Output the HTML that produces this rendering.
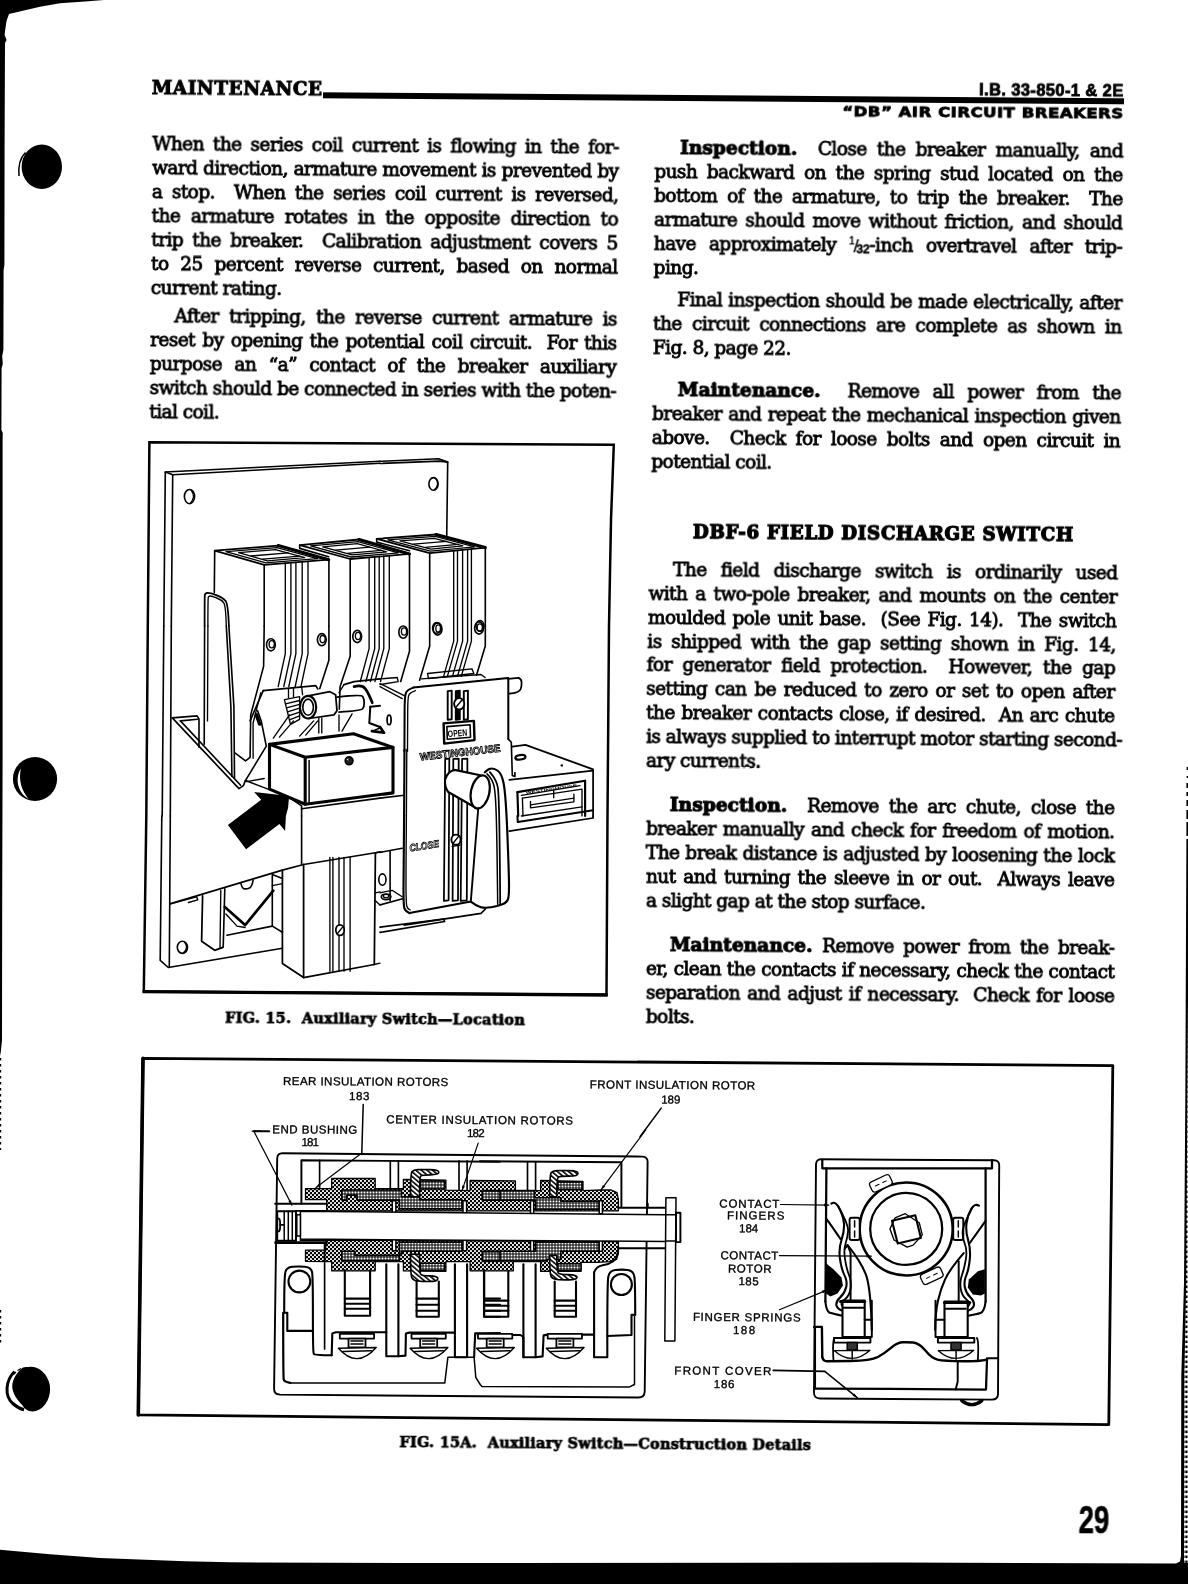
<!DOCTYPE html>
<html lang="en"><head><meta charset="utf-8"><title>Maintenance - DB Air Circuit Breakers - page 29</title>
<style>
html,body{margin:0;padding:0;background:#fff}
body{width:1188px;height:1584px;position:relative;overflow:hidden;color:#000}
#pg{position:absolute;left:0;top:0;width:1188px;height:1584px;transform-origin:150px 94px;transform:matrix(1,0.0075,-0.0115,1,0,0);will-change:transform}
.l{position:absolute;height:24px;line-height:24px;white-space:nowrap;text-align:justify;text-align-last:justify;
 font-family:"DejaVu Serif","Liberation Serif",serif;font-size:18.5px;letter-spacing:-0.55px;-webkit-text-stroke:0.85px #000}
.l.e{text-align:left;text-align-last:left}
.l b{font-weight:bold;-webkit-text-stroke:1.1px #000;letter-spacing:0.1px;font-size:18.5px}
.fr{font-family:'Liberation Sans',sans-serif;letter-spacing:0;-webkit-text-stroke:0.4px #000} .fr span{line-height:0;position:relative;display:inline-block} .fr .n{font-size:10px;top:-6.5px} .fr .s{font-size:19px;top:1px;margin:0 -2.2px 0 -1.2px;-webkit-text-stroke:0.2px #000} .fr .d{font-size:12px;font-weight:bold;top:2px;letter-spacing:-0.3px}
.t{position:absolute;white-space:nowrap}
.hs{font-family:"DejaVu Serif","Liberation Serif",serif;font-weight:bold}
.sb{font-family:"Liberation Sans","DejaVu Sans",sans-serif;font-weight:bold}
svg{position:absolute;overflow:visible}
</style></head><body>
<svg id="scan" width="1188" height="1584" viewBox="0 0 1188 1584" style="left:0;top:0">
<!-- scanner shadow: top-left wedge + left edge band -->
<path d="M0 0H104L85 1.5L60 3.2L40 6.7L25 10.2L9 14L6.5 21L5.2 30L4.6 35L6.6 40L5 43L4.6 140L4.4 265L3.6 270L3.4 350L2.2 356L2.8 364L1.6 368L1.4 430L2.8 433L2.6 440L2.6 760L2.2 900L2 1040L0.8 1052L0 1056Z" fill="#000"/>
<path d="M0.6 1058V1150M0.6 1310V1343" stroke="#000" stroke-width="1.2" stroke-dasharray="2.5 3.5" fill="none"/>
<!-- bottom bar -->
<defs><pattern id="edg" width="3" height="5" patternUnits="userSpaceOnUse"><rect width="3" height="5" fill="#fff"/><rect x="0.3" y="0.5" width="2.2" height="2.6" fill="#000"/></pattern></defs>
<path d="M0 1549.8L50 1554.2L100 1557.9L185 1561.3L230 1562.3L400 1563L900 1562.6L1176 1563.4L1180 1561.5L1181 1556L1181.3 1375L1184 1283L1185.3 1100L1186.4 839L1188 839V1584H0Z" fill="#000"/>
<path d="M1184.3 1375L1186.2 1283L1187.3 1100L1188 1000V1563H1184Z" fill="url(#edg)"/>
<g fill="#000">
<rect x="1186.6" y="767" width="1.4" height="3"/><rect x="1186.6" y="776" width="1.4" height="2"/><rect x="1186.4" y="783" width="1.6" height="5"/><rect x="1186.4" y="792" width="1.6" height="4"/><rect x="1186.4" y="800" width="1.6" height="6"/><rect x="1186.4" y="810" width="1.6" height="9"/><rect x="1186.4" y="822" width="1.6" height="14"/>
</g>
<!-- punched holes -->
<ellipse cx="41.8" cy="166.7" rx="20.2" ry="22.2" fill="#000"/>
<path d="M25.5 152.5C20 158 18.2 167 19 176" fill="none" stroke="#000" stroke-width="1.5"/>
<ellipse cx="35" cy="779" rx="22.1" ry="22" fill="#000"/>
<path d="M20.8 768.5C15 778 17 792 28.5 799C21.5 790 18.5 781 20.8 768.5Z" fill="#fff"/>
<path d="M14.5 1371.5C5.5 1380.5 4.2 1396 12.8 1403.5C16.5 1406.8 20 1408.8 24 1409.8" fill="none" stroke="#000" stroke-width="3"/>
<path d="M21 1368.5L17.5 1370.5M16 1372L13.5 1374.5" stroke="#000" stroke-width="1.2"/>
<path d="M29 1366.9C38 1365.8 47.5 1373 49.8 1385C51.5 1396 46 1408 36 1411C30 1412.5 25 1410 22.5 1405.5C17 1399.5 12.5 1394 12.2 1386C12.5 1378.5 18 1371 23 1367.5C25 1366.9 27 1366.9 29 1366.9Z" fill="#000"/>
</svg>

<svg id="fig15" width="1188" height="1584" viewBox="0 0 1188 1584" style="left:0;top:0;will-change:transform;font-family:'Liberation Sans',sans-serif" stroke-linejoin="round" stroke-linecap="round">
<path d="M149.4,442.2 L613.8,444.8 L611,520 L609,626 L607.5,816 L606.5,994.8 L143.8,991.4 L146.3,816 L147.8,626Z" fill="#fff" stroke="#000" stroke-width="2.5" stroke-linejoin="miter"/>
<path d="M142.6,991.6 L607.7,995" fill="none" stroke="#000" stroke-width="3.4" stroke-linecap="butt"/>
<path d="M163.8,625.9 L165.3,472.0 L380.0,461.3" fill="none" stroke="#000" stroke-width="1.62" />
<path d="M171.3,625.9 L172.7,474.8 L380.0,463.3" fill="none" stroke="#000" stroke-width="1.62" />
<path d="M165.3,472.0 L172.7,474.8" fill="none" stroke="#000" stroke-width="1.62" />
<path d="M380.0,461.3 L438.6,458.8 L447.7,461.9 L446.7,537.0" fill="none" stroke="#000" stroke-width="1.62" />
<path d="M380.0,463.5 L439.6,461.1 L447.7,462.1" fill="none" stroke="#000" stroke-width="1.62" />
<path d="M163.8,626.0 L162.2,815.9" fill="none" stroke="#000" stroke-width="1.62" />
<path d="M171.3,626.0 L170.3,815.9" fill="none" stroke="#000" stroke-width="1.62" />
<path d="M161.8,816.0 L160.2,960.4 L168.3,967.5 L282.4,948.3" fill="none" stroke="#000" stroke-width="1.62" />
<path d="M170.3,816.0 L169.3,966.5" fill="none" stroke="#000" stroke-width="1.62" />
<ellipse cx="189.5" cy="496.6" rx="5.1" ry="7.1" fill="none" stroke="#000" stroke-width="1.62"/>
<path d="M191.5,490.5 Q193.7,493.6 193.5,496.9 Q193.3,500.2 190.5,502.9" fill="none" stroke="#000" stroke-width="1.35"/>
<ellipse cx="433.5" cy="483.9" rx="4.6" ry="6.3" fill="none" stroke="#000" stroke-width="1.62"/>
<path d="M435.6,478.4 Q437.8,480.8 437.6,484.1 Q437.4,487.3 434.5,489.5" fill="none" stroke="#000" stroke-width="1.35"/>
<ellipse cx="182.4" cy="947.3" rx="5.1" ry="6.1" fill="none" stroke="#000" stroke-width="1.62"/>
<path d="M184.4,942.1 Q186.7,944.5 186.5,947.5 Q186.3,950.5 183.4,952.8" fill="none" stroke="#000" stroke-width="1.35"/>
<path d="M214.6,550.7 L278.2,545.6 L328.7,559.7 L264.3,564.8Z" fill="none" stroke="#000" stroke-width="1.76" />
<path d="M278.2,545.6 L328.7,559.7" fill="none" stroke="#000" stroke-width="3.10" />
<path d="M226.0,551.7 L277.0,547.6 L317.4,558.7 L265.9,562.8Z" fill="none" stroke="#000" stroke-width="1.35" />
<path d="M238.6,552.7 L275.5,549.6 L304.7,557.7 L267.4,560.8Z" fill="none" stroke="#000" stroke-width="1.35" />
<path d="M251.0,556.0 L288.1,552.9" fill="none" stroke="#000" stroke-width="1.35" />
<path d="M262.6,559.2 L299.7,556.2" fill="none" stroke="#000" stroke-width="1.35" />
<path d="M214.7,551.2 L214.3,592.6" fill="none" stroke="#000" stroke-width="1.62" />
<path d="M264.2,565.3 L264.2,625.9" fill="none" stroke="#000" stroke-width="1.62" />
<path d="M328.9,560.2 L328.9,625.9" fill="none" stroke="#000" stroke-width="1.62" />
<path d="M285.3,563.0 L285.3,653.7 L278.2,686.5" fill="none" stroke="#000" stroke-width="1.35" />
<path d="M290.9,562.8 L290.9,653.7 L283.8,686.5" fill="none" stroke="#000" stroke-width="1.35" />
<path d="M295.9,562.3 L295.9,653.7 L288.8,686.5" fill="none" stroke="#000" stroke-width="1.35" />
<path d="M302.2,561.8 L302.2,653.7 L295.2,686.5" fill="none" stroke="#000" stroke-width="1.35" />
<path d="M308.0,561.3 L308.0,653.7 L301.0,686.5" fill="none" stroke="#000" stroke-width="1.35" />
<path d="M204.6,625.9 Q204.6,597.6 204.8,595.4 Q205.1,593.2 207.4,592.9 Q209.7,592.6 216.2,595.1 Q222.8,597.6 225.4,600.7 Q228.1,603.7 228.9,625.9" fill="none" stroke="#000" stroke-width="1.76"/>
<path d="M207.9,625.9 Q207.9,598.6 208.3,597.3 Q208.7,596.0 210.2,596.0 Q211.7,596.0 216.8,598.0 Q221.8,600.0 223.8,602.9 Q225.7,605.7 226.3,625.9" fill="none" stroke="#000" stroke-width="1.35"/>
<path d="M264.2,626.0 L263.6,666.4 L250.7,714.9 L250.1,757.3 L245.5,760.9 L234.9,752.9" fill="none" stroke="#000" stroke-width="1.62" />
<path d="M260.8,692.7 L253.1,723.0 L253.1,758.3" fill="none" stroke="#000" stroke-width="1.35" />
<path d="M257.6,710.8 L261.2,720.9 L266.3,746.2 L245.1,781.2" fill="none" stroke="#000" stroke-width="1.62" />
<path d="M256.4,714.9 L259.6,724.0" fill="none" stroke="#000" stroke-width="3.51" />
<path d="M204.6,626.0 L204.2,744.2" fill="none" stroke="#000" stroke-width="1.62" />
<path d="M207.9,626.0 L207.5,720.9" fill="none" stroke="#000" stroke-width="1.35" />
<path d="M226.3,626.0 L230.9,706.8 L231.9,776.5" fill="none" stroke="#000" stroke-width="1.62" />
<path d="M228.9,626.0 L233.9,706.8 L234.5,778.5" fill="none" stroke="#000" stroke-width="1.62" />
<path d="M328.9,626.0 L328.9,660.3 L319.8,688.6" fill="none" stroke="#000" stroke-width="1.62" />
<path d="M172.3,717.9 L197.0,715.9 L199.0,718.9 L199.0,747.2" fill="none" stroke="#000" stroke-width="1.62" />
<path d="M172.3,717.9 L239.0,788.6 L243.4,785.6 L245.5,780.5" fill="none" stroke="#000" stroke-width="1.62" />
<path d="M180.4,720.9 L197.6,719.3" fill="none" stroke="#000" stroke-width="1.62" />
<path d="M180.4,720.9 L240.6,785.2" fill="none" stroke="#000" stroke-width="1.62" />
<ellipse cx="270.9" cy="644.8" rx="4.4" ry="6.1" fill="none" stroke="#000" stroke-width="1.62"/>
<ellipse cx="271.7" cy="644.2" rx="2.6" ry="3.6" fill="none" stroke="#000" stroke-width="1.35"/>
<ellipse cx="321.8" cy="639.7" rx="4.4" ry="6.1" fill="none" stroke="#000" stroke-width="1.62"/>
<ellipse cx="322.6" cy="639.1" rx="2.6" ry="3.6" fill="none" stroke="#000" stroke-width="1.35"/>
<ellipse cx="357.2" cy="636.5" rx="4.4" ry="6.1" fill="none" stroke="#000" stroke-width="1.62"/>
<ellipse cx="358.0" cy="635.9" rx="2.6" ry="3.6" fill="none" stroke="#000" stroke-width="1.35"/>
<path d="M299.7,545.1 L359.0,539.5 L409.5,553.9 L350.2,559.0Z" fill="none" stroke="#000" stroke-width="1.76" />
<path d="M359.0,539.5 L409.5,553.9" fill="none" stroke="#000" stroke-width="3.10" />
<path d="M310.6,545.9 L358.0,541.6 L398.4,552.9 L351.0,557.0Z" fill="none" stroke="#000" stroke-width="1.35" />
<path d="M322.7,546.9 L357.3,543.6 L386.6,551.9 L352.0,554.9Z" fill="none" stroke="#000" stroke-width="1.35" />
<path d="M335.6,550.2 L369.9,547.1" fill="none" stroke="#000" stroke-width="1.35" />
<path d="M347.2,553.4 L381.5,550.4" fill="none" stroke="#000" stroke-width="1.35" />
<path d="M299.7,545.1 L299.7,548.4 L328.7,556.7" fill="none" stroke="#000" stroke-width="1.62" />
<path d="M350.2,559.0 L350.2,656.2 L340.1,686.5 L339.3,709.2" fill="none" stroke="#000" stroke-width="1.62" />
<path d="M409.5,553.9 L409.5,651.2 L400.7,681.5" fill="none" stroke="#000" stroke-width="1.62" />
<path d="M369.1,557.5 L369.1,648.6 L360.3,681.5" fill="none" stroke="#000" stroke-width="1.35" />
<path d="M374.7,557.0 L374.7,648.6 L365.9,681.5" fill="none" stroke="#000" stroke-width="1.35" />
<path d="M379.2,556.5 L379.2,648.6 L370.4,681.5" fill="none" stroke="#000" stroke-width="1.35" />
<path d="M383.8,556.2 L383.8,648.6 L374.9,681.5" fill="none" stroke="#000" stroke-width="1.35" />
<path d="M389.3,555.7 L389.3,648.6 L380.5,681.5" fill="none" stroke="#000" stroke-width="1.35" />
<path d="M376.7,538.8 L436.1,534.5 L485.3,547.6 L429.7,553.2Z" fill="none" stroke="#000" stroke-width="1.76" />
<path d="M436.1,534.5 L485.3,547.6" fill="none" stroke="#000" stroke-width="3.10" />
<path d="M387.8,539.8 L435.3,536.3 L474.7,546.9 L430.3,551.2Z" fill="none" stroke="#000" stroke-width="1.35" />
<path d="M399.9,540.8 L434.3,538.3 L462.8,545.9 L430.8,549.1Z" fill="none" stroke="#000" stroke-width="1.35" />
<path d="M413.3,544.1 L446.7,541.3" fill="none" stroke="#000" stroke-width="1.35" />
<path d="M425.2,547.4 L458.3,544.3" fill="none" stroke="#000" stroke-width="1.35" />
<path d="M376.7,538.8 L376.7,542.1 L409.5,550.7" fill="none" stroke="#000" stroke-width="1.62" />
<path d="M429.7,553.2 L429.7,646.1 L419.6,680.2" fill="none" stroke="#000" stroke-width="1.62" />
<path d="M485.3,547.6 L485.3,646.1 L476.5,675.2" fill="none" stroke="#000" stroke-width="1.62" />
<path d="M453.7,550.7 L453.7,641.1 L443.6,676.4" fill="none" stroke="#000" stroke-width="1.35" />
<path d="M457.5,550.4 L457.5,641.1 L447.4,676.4" fill="none" stroke="#000" stroke-width="1.35" />
<path d="M462.6,549.9 L462.6,641.1 L452.5,676.4" fill="none" stroke="#000" stroke-width="1.35" />
<path d="M467.6,549.4 L467.6,641.1 L457.5,676.4" fill="none" stroke="#000" stroke-width="1.35" />
<path d="M471.4,549.1 L471.4,641.1 L461.3,676.4" fill="none" stroke="#000" stroke-width="1.35" />
<ellipse cx="436.6" cy="627.9" rx="4.0" ry="5.3" fill="none" stroke="#000" stroke-width="1.62"/>
<ellipse cx="480.0" cy="625.9" rx="4.0" ry="5.3" fill="none" stroke="#000" stroke-width="1.62"/>
<ellipse cx="403.2" cy="632.1" rx="4.4" ry="6.1" fill="none" stroke="#000" stroke-width="1.62"/>
<ellipse cx="404.0" cy="631.5" rx="2.6" ry="3.6" fill="none" stroke="#000" stroke-width="1.35"/>
<ellipse cx="437.6" cy="629.0" rx="4.4" ry="6.1" fill="none" stroke="#000" stroke-width="1.62"/>
<ellipse cx="438.4" cy="628.4" rx="2.6" ry="3.6" fill="none" stroke="#000" stroke-width="1.35"/>
<ellipse cx="479.0" cy="628.0" rx="4.4" ry="6.1" fill="none" stroke="#000" stroke-width="1.62"/>
<ellipse cx="479.8" cy="627.4" rx="2.6" ry="3.6" fill="none" stroke="#000" stroke-width="1.35"/>
<path d="M427.5,673.5 L471.9,668.8 L473.9,673.5 L428.5,678.5Z" fill="none" stroke="#000" stroke-width="1.35" />
<path d="M380.0,678.9 L397.2,677.5 L398.2,681.6 L380.0,684.6" fill="none" stroke="#000" stroke-width="1.35" />
<path d="M421.4,678.9 L481.0,674.5 L485.1,677.5" fill="none" stroke="#000" stroke-width="1.35" />
<path d="M263.2,690.6 L315.8,685.6 L317.8,689.0" fill="none" stroke="#000" stroke-width="1.62" />
<path d="M263.2,690.6 L250.1,720.9" fill="none" stroke="#000" stroke-width="1.62" />
<path d="M284.4,699.7 L299.6,696.7 L299.6,719.3 L290.5,724.4Z" fill="none" stroke="#000" stroke-width="1.35" />
<path d="M285.5,703.8 L299.6,700.5" fill="none" stroke="#000" stroke-width="1.35" />
<path d="M286.5,707.8 L299.6,704.4" fill="none" stroke="#000" stroke-width="1.35" />
<path d="M287.5,711.9 L299.6,708.2" fill="none" stroke="#000" stroke-width="1.35" />
<path d="M288.5,715.9 L299.6,712.1" fill="none" stroke="#000" stroke-width="1.35" />
<path d="M289.5,719.9 L299.6,715.9" fill="none" stroke="#000" stroke-width="1.35" />
<path d="M288.5,688.6 L288.5,697.7" fill="none" stroke="#000" stroke-width="1.35" />
<path d="M293.5,687.6 L293.5,696.7" fill="none" stroke="#000" stroke-width="1.35" />
<path d="M301.6,686.6 L302.6,694.7" fill="none" stroke="#000" stroke-width="1.35" />
<ellipse cx="308.1" cy="707.2" rx="8.1" ry="11.3" fill="none" stroke="#000" stroke-width="2.16"/>
<ellipse cx="308.1" cy="707.2" rx="5.3" ry="8.1" fill="none" stroke="#000" stroke-width="1.62"/>
<path d="M308.1,695.9 L329.9,691.7 L335.6,694.7 L337.0,710.8 L333.9,714.9 L308.7,718.5" fill="none" stroke="#000" stroke-width="1.76" />
<path d="M337.0,697.1 Q361.2,694.3 362.7,696.5 Q364.2,698.7 364.2,702.8 Q364.2,706.8 362.7,708.8 Q361.2,710.8 339.0,712.1" fill="none" stroke="#000" stroke-width="1.76"/>
<path d="M273.3,738.1 L289.5,714.9" fill="none" stroke="#000" stroke-width="1.35" />
<path d="M279.4,737.1 L293.5,720.9" fill="none" stroke="#000" stroke-width="1.35" />
<path d="M299.6,736.1 L313.7,720.9" fill="none" stroke="#000" stroke-width="1.35" />
<path d="M305.7,735.1 L317.8,720.9" fill="none" stroke="#000" stroke-width="1.35" />
<path d="M318.8,717.9 L318.8,733.1" fill="none" stroke="#000" stroke-width="1.35" />
<path d="M321.8,717.9 L321.8,733.1" fill="none" stroke="#000" stroke-width="1.35" />
<path d="M339.0,714.9 L339.0,731.1" fill="none" stroke="#000" stroke-width="1.35" />
<path d="M342.0,731.1 L352.1,713.9" fill="none" stroke="#000" stroke-width="1.35" />
<path d="M344.0,684.6 L354.1,681.6 L380.0,678.9" fill="none" stroke="#000" stroke-width="1.76" />
<path d="M344.0,684.6 L339.0,692.7" fill="none" stroke="#000" stroke-width="1.35" />
<path d="M354.1,686.6 Q362.2,684.6 365.2,688.7 Q368.3,692.7 372.3,702.8" fill="none" stroke="#000" stroke-width="2.70"/>
<path d="M370.3,706.8 L380.0,705.8" fill="none" stroke="#000" stroke-width="2.03" />
<path d="M370.3,706.8 L369.3,723.0 L380.0,727.0" fill="none" stroke="#000" stroke-width="2.03" />
<path d="M372.3,731.1 L380.0,728.0" fill="none" stroke="#000" stroke-width="1.35" />
<path d="M380.0,683.6 L404.2,695.7" fill="none" stroke="#000" stroke-width="1.35" />
<path d="M380.0,686.6 L402.2,698.7" fill="none" stroke="#000" stroke-width="1.35" />
<ellipse cx="389.1" cy="719.9" rx="2.0" ry="4.8" fill="none" stroke="#000" stroke-width="1.76"/>
<path d="M371.9,731.1 L384.0,732.7 L380.0,727.0" fill="none" stroke="#000" stroke-width="2.70" />
<path d="M269.5,744.4 L353.6,733.8 L393.0,747.4 L393.0,792.9 L305.2,804.2 L269.5,789.1Z" fill="#fff" stroke="#000" stroke-width="3.10" />
<path d="M269.5,744.4 L305.2,757.3 L393.0,747.4" fill="none" stroke="#000" stroke-width="3.10" />
<path d="M305.2,757.3 L305.2,804.2" fill="none" stroke="#000" stroke-width="3.10" />
<path d="M309.1,760.6 L309.1,802.4" fill="none" stroke="#000" stroke-width="1.49" />
<ellipse cx="349.1" cy="760.8" rx="3.9" ry="3.9" fill="#222" stroke="#000" stroke-width="1.62"/>
<ellipse cx="347.9" cy="759.5" rx="1.2" ry="1.2" fill="#fff" stroke="#000" stroke-width="0.68"/>
<path d="M245.5,780.5 L269.3,789.6" fill="none" stroke="#000" stroke-width="1.35" />
<path d="M246.7,781.6 L264.2,778.5" fill="none" stroke="#000" stroke-width="1.35" />
<path d="M289.5,797.7 L301.6,805.8 L301.6,815.9" fill="none" stroke="#000" stroke-width="1.62" />
<path d="M301.6,808.8 L380.0,798.1" fill="none" stroke="#000" stroke-width="1.62" />
<path d="M380.0,798.1 L404.2,795.3" fill="none" stroke="#000" stroke-width="1.62" />
<path d="M254.1,792.1 L289.1,796.1 L288.1,807.8 L285.9,815.9 L285.1,831.1 L279.4,824.0 L246.1,849.2 L227.9,825.0 L261.2,799.7" fill="#000"/>
<path d="M512.3,746.6 L525.5,744.8 L593.1,769.4 L593.1,815.9 L593.1,818.0 L509.3,831.2 L509.3,779.9 Z" fill="#fff" stroke="none"/>
<path d="M512.3,746.6 L525.5,744.8 L593.1,769.4 L593.1,815.9" fill="none" stroke="#000" stroke-width="1.76" />
<path d="M509.3,779.9 L593.1,770.6" fill="none" stroke="#000" stroke-width="1.76" />
<path d="M517.4,792.1 L585.1,780.7 L585.1,815.9" fill="none" stroke="#000" stroke-width="2.16" />
<path d="M517.4,792.1 L518.2,815.9" fill="none" stroke="#000" stroke-width="2.16" />
<path d="M521.4,795.3 L580.0,785.6" fill="none" stroke="#000" stroke-width="1.35" />
<path d="M522.4,798.1 L582.0,789.2 L582.0,815.9" fill="none" stroke="#000" stroke-width="1.35" />
<path d="M522.4,798.1 L523.0,815.9" fill="none" stroke="#000" stroke-width="1.35" />
<path d="M530.5,801.4 L530.5,807.8 L573.9,801.8 L573.9,794.1" fill="none" stroke="#000" stroke-width="1.35" />
<path d="M530.5,804.8 L573.9,798.1" fill="none" stroke="#000" stroke-width="1.35" />
<path d="M553.7,790.6 L553.7,797.7" fill="none" stroke="#000" stroke-width="1.35" />
<ellipse cx="520.4" cy="757.3" rx="5.1" ry="2.2" fill="none" stroke="#000" stroke-width="2.16" transform="rotate(-8 520.4 757.3)"/>
<circle cx="561.8" cy="765.4" r="1.2"/>
<text x="525.9" y="794.1" font-size="3.6" transform="rotate(-8.5 525.9 794.1)" font-weight="bold" textLength="52" lengthAdjust="spacingAndGlyphs">WESTINGHOUSE</text>
<path d="M509.3,831.2 L593.1,818.0 L593.1,816.0" fill="none" stroke="#000" stroke-width="1.76" />
<path d="M517.4,816.0 L517.8,822.1 L593.1,810.3" fill="none" stroke="#000" stroke-width="2.03" />
<path d="M521.4,816.0 L582.0,806.9" fill="none" stroke="#000" stroke-width="1.35" />
<path d="M413.3,687.6 L508.3,678.1 L508.3,739.1 L505.8,793.9 L508.5,861.2 L509.2,894.9 L504.5,904.3 L484.3,908.4 L470.8,901.6 L409.5,913.1 L405.1,911.0 L403.5,905.0 L403.5,874.7 L404.1,815.4 L404.6,727.0 L404.6,695.7 L407.3,689.6 Z" fill="#fff" stroke="none"/>
<path d="M404.4,751.3 Q404.6,727.0 404.6,711.4 Q404.6,695.7 406.0,692.7 Q407.3,689.6 413.3,687.6" fill="none" stroke="#000" stroke-width="2.03"/>
<path d="M413.3,687.6 L508.3,678.1 L508.3,739.1" fill="none" stroke="#000" stroke-width="2.03" />
<path d="M407.5,751.3 Q407.7,727.0 407.7,712.4 Q407.7,697.7 408.8,695.2 Q409.9,692.7 415.4,690.6" fill="none" stroke="#000" stroke-width="1.35"/>
<path d="M508.3,678.9 L518.4,677.9" fill="none" stroke="#000" stroke-width="1.76" />
<path d="M518.4,677.9 Q521.4,678.9 521.6,682.2 Q521.8,685.6 520.6,689.2 Q519.4,692.7 509.3,693.7" fill="none" stroke="#000" stroke-width="1.76"/>
<path d="M508.3,739.1 L511.3,742.2 L512.3,775.5 L514.9,776.5 L514.9,772.5" fill="none" stroke="#000" stroke-width="1.62" />
<path d="M447.7,691.1 L451.7,690.6 L451.7,719.3 L447.7,719.9Z" fill="none" stroke="#000" stroke-width="1.89" />
<path d="M455.8,691.1 L459.8,690.6 L459.8,719.3 L455.8,719.9Z" fill="#000" stroke="#000" stroke-width="1.89" />
<path d="M463.8,691.1 L467.9,690.6 L467.9,719.3 L463.8,719.9Z" fill="none" stroke="#000" stroke-width="1.89" />
<ellipse cx="459.2" cy="703.8" rx="5.1" ry="5.7" fill="#fff" stroke="#000" stroke-width="1.89"/>
<path d="M456.4,706.8 L461.8,700.3" fill="none" stroke="#000" stroke-width="1.35" />
<path d="M443.6,723.4 L473.9,720.9 L474.5,740.1 L444.2,743.6Z" fill="none" stroke="#000" stroke-width="2.43" />
<path d="M446.9,726.6 L470.1,724.8 L470.5,737.3 L447.3,739.3Z" fill="none" stroke="#000" stroke-width="1.62" />
<path d="M445.2,758.9 L443.9,900.9 L448.6,900.3 L449.3,758.6Z" fill="none" stroke="#000" stroke-width="1.76" />
<path d="M453.3,758.9 L452.6,900.9 L458.0,900.3 L458.7,758.6Z" fill="none" stroke="#000" stroke-width="1.76" />
<path d="M462.1,758.9 L460.7,900.9 L466.8,900.3 L467.4,758.6Z" fill="none" stroke="#000" stroke-width="1.76" />
<ellipse cx="456.0" cy="839.7" rx="4.6" ry="5.1" fill="#fff" stroke="#000" stroke-width="1.89"/>
<path d="M453.3,843.0 L459.0,835.9" fill="none" stroke="#000" stroke-width="1.35" />
<path d="M452.2,846.4 L460.0,845.1" fill="none" stroke="#000" stroke-width="1.35" />
<path d="M404.5,749.4 L404.1,815.4" fill="none" stroke="#000" stroke-width="2.16" />
<path d="M404.1,815.4 Q403.5,874.7 403.5,889.9 Q403.5,905.0 404.3,908.0 Q405.1,911.0 409.5,913.1" fill="none" stroke="#000" stroke-width="2.16"/>
<path d="M409.5,913.1 L470.8,901.6" fill="none" stroke="#000" stroke-width="2.03" />
<path d="M406.8,749.4 L406.4,815.4" fill="none" stroke="#000" stroke-width="1.35" />
<path d="M406.4,815.4 Q405.9,874.7 406.0,889.2 Q406.2,903.6 406.7,906.0 Q407.2,908.4 410.2,910.0" fill="none" stroke="#000" stroke-width="1.35"/>
<path d="M478.2,808.7 L476.2,796.6 L484.3,772.3 L492.4,768.3 L501.8,773.7 L505.8,793.9 L508.5,861.2 L509.2,894.9 L504.5,904.3 L484.3,908.4 L470.8,901.6 Z" fill="#fff" stroke="none"/>
<path d="M484.9,772.3 Q488.3,768.6 491.4,768.5 Q494.4,768.3 498.1,771.0 Q501.8,773.7 503.7,783.8 Q505.6,793.9 507.1,827.5 Q508.5,861.2 508.9,878.0 Q509.3,894.9 508.2,898.6 Q507.2,902.3 502.4,904.3 Q497.7,906.3 491.0,907.3 Q484.3,908.4 480.2,907.0 Q476.2,905.7 470.8,901.6" fill="none" stroke="#000" stroke-width="2.16"/>
<path d="M478.2,808.7 L470.8,901.6" fill="none" stroke="#000" stroke-width="1.89" />
<path d="M487.0,773.9 Q492.6,779.1 494.1,786.5 Q495.7,793.9 496.4,820.8 Q497.1,847.7 497.7,905.0" fill="none" stroke="#000" stroke-width="1.49"/>
<path d="M489.9,772.1 Q497.1,780.4 498.0,788.5 Q498.8,796.6 499.3,822.2 Q499.8,847.7 500.2,904.6" fill="none" stroke="#000" stroke-width="1.76"/>
<path d="M480.2,775.3 L454.6,769.9 L449.9,771.6 L445.9,776.4 L444.5,783.1 L445.9,788.5 L448.2,792.0 L476.2,808.0 Z" fill="#fff" stroke="none"/>
<path d="M480.2,775.3 Q454.6,769.9 454.6,769.9 Q454.6,769.9 452.0,770.8 Q449.3,771.6 446.9,775.4 Q444.5,779.1 445.0,783.5 Q445.5,787.8 446.9,789.9 Q448.2,792.0 448.2,792.0 Q448.2,792.0 476.2,808.0" fill="none" stroke="#000" stroke-width="2.16"/>
<ellipse cx="480.2" cy="791.9" rx="9.2" ry="16.8" fill="#fff" stroke="#000" stroke-width="2.16" transform="rotate(12 480.2 791.9)"/>
<path d="M404.2,925.1 L481.0,913.4 L485.5,908.9" fill="none" stroke="#000" stroke-width="1.62" />
<path d="M380.0,927.1 L443.6,919.0 L444.6,921.5 L380.0,932.4" fill="none" stroke="#000" stroke-width="1.62" />
<path d="M380.0,852.4 L402.2,848.3" fill="none" stroke="#000" stroke-width="1.62" />
<path d="M390.1,850.7 L390.1,900.8" fill="none" stroke="#000" stroke-width="1.62" />
<ellipse cx="382.4" cy="879.6" rx="3.6" ry="5.7" fill="none" stroke="#000" stroke-width="1.62"/>
<ellipse cx="386.1" cy="896.8" rx="4.8" ry="2.8" fill="none" stroke="#000" stroke-width="1.62"/>
<ellipse cx="386.1" cy="896.0" rx="2.8" ry="1.6" fill="none" stroke="#000" stroke-width="1.35"/>
<path d="M380.0,892.8 L392.1,890.3 L402.2,896.8" fill="none" stroke="#000" stroke-width="1.35" />
<path d="M380.0,904.9 L402.6,898.8" fill="none" stroke="#000" stroke-width="1.62" />
<text x="448.1" y="737.3" font-size="9.5" transform="rotate(-5 448.1 737.3)" font-weight="bold" textLength="19.5" lengthAdjust="spacingAndGlyphs">OPEN</text>
<text x="420.3" y="760.5" font-size="10.5" transform="rotate(-6.3 420.3 760.5)" font-weight="bold" fill="#fff" stroke="#000" stroke-width="0.9" textLength="81" lengthAdjust="spacingAndGlyphs">WESTINGHOUSE</text>
<text x="409.9" y="851.5" font-size="10" transform="rotate(-9 409.9 851.5)" font-weight="bold" font-style="italic" fill="#fff" stroke="#000" stroke-width="0.8" textLength="30" lengthAdjust="spacingAndGlyphs">CLOSE</text>
<path d="M169.9,903.9 L282.4,870.1 L303.6,864.5 L380.0,852.0" fill="none" stroke="#000" stroke-width="1.76" />
<path d="M301.6,816.0 L301.6,864.1" fill="none" stroke="#000" stroke-width="1.62" />
<path d="M282.4,870.1 L282.4,963.5 L303.6,977.6 L374.3,964.5 L375.4,852.8" fill="none" stroke="#000" stroke-width="1.76" />
<path d="M303.6,864.5 L303.6,977.6" fill="none" stroke="#000" stroke-width="1.76" />
<path d="M329.9,857.4 L329.9,971.2" fill="none" stroke="#000" stroke-width="1.35" />
<path d="M332.9,857.4 L332.9,971.2" fill="none" stroke="#000" stroke-width="1.35" />
<path d="M339.0,857.4 L339.0,971.2" fill="none" stroke="#000" stroke-width="1.35" />
<path d="M344.0,857.4 L344.0,971.2" fill="none" stroke="#000" stroke-width="1.35" />
<path d="M350.1,857.4 L350.1,971.2" fill="none" stroke="#000" stroke-width="1.35" />
<ellipse cx="340.0" cy="930.1" rx="4.2" ry="5.3" fill="#fff" stroke="#000" stroke-width="1.76"/>
<path d="M337.6,933.2 L342.6,927.1" fill="none" stroke="#000" stroke-width="1.35" />
<path d="M170.3,903.9 L196.6,896.8 L197.8,899.8 L188.5,902.5" fill="none" stroke="#000" stroke-width="1.35" />
<path d="M202.6,895.8 L201.6,941.3 L214.7,950.3 L222.8,947.3" fill="none" stroke="#000" stroke-width="1.76" />
<path d="M220.8,890.3 L220.0,948.3" fill="none" stroke="#000" stroke-width="1.35" />
<path d="M224.8,888.7 L223.2,947.3" fill="none" stroke="#000" stroke-width="1.62" />
<path d="M224.8,906.9 L245.1,925.1 L273.3,890.7" fill="none" stroke="#000" stroke-width="2.70" />
<path d="M225.9,914.0 L237.0,926.1 L245.1,927.5" fill="none" stroke="#000" stroke-width="1.35" />
<path d="M226.9,935.2 L272.3,926.1 L272.3,874.6 L282.4,878.6" fill="none" stroke="#000" stroke-width="1.62" />
<path d="M272.3,926.1 L282.4,932.2" fill="none" stroke="#000" stroke-width="1.62" />
<path d="M272.3,885.7 L282.4,883.7" fill="none" stroke="#000" stroke-width="1.35" />
<path d="M241.0,883.7 Q242.0,888.7 244.6,888.9 Q247.1,889.1 249.6,887.9 Q252.1,886.7 253.1,880.2" fill="none" stroke="#000" stroke-width="1.62"/>
<path d="M375.4,852.8 L380.0,852.0" fill="none" stroke="#000" stroke-width="1.62" />
<path d="M374.3,964.5 L380.0,963.1" fill="none" stroke="#000" stroke-width="1.35" />
<path d="M375.4,892.8 L380.0,891.8" fill="none" stroke="#000" stroke-width="1.35" />
<path d="M375.4,900.8 L380.0,904.9" fill="none" stroke="#000" stroke-width="1.35" />
</svg>

<svg id="fig15a" width="1188" height="1584" viewBox="0 0 1188 1584" style="left:0;top:0;will-change:transform;font-family:'Liberation Sans',sans-serif" stroke-linejoin="round" stroke-linecap="round">
<defs><pattern id="st" width="4" height="4" patternUnits="userSpaceOnUse"><rect width="4" height="4" fill="#000"/><circle cx="1" cy="1" r="1.08" fill="#fff"/><circle cx="3" cy="3" r="1.08" fill="#fff"/></pattern><pattern id="st2" width="3" height="3" patternUnits="userSpaceOnUse"><rect width="3" height="3" fill="#000"/><rect x="0.5" y="0.5" width="2" height="2" fill="#fff"/></pattern><pattern id="hat" width="3.6" height="3.6" patternUnits="userSpaceOnUse" patternTransform="rotate(-50)"><rect width="3.6" height="3.6" fill="#fff"/><rect width="1.6" height="3.6" fill="#000"/></pattern></defs>
<path d="M143,1058.3 L1112.8,1065.6 L1108.8,1424.6 L138.3,1414.9Z" fill="#fff" stroke="#000" stroke-width="2.8"/>
<path d="M143,1058.3 L138.3,1414.9" stroke="#000" stroke-width="3.6"/>
<path d="M282.5,1153.3 L642.5,1156.6 Q647.7,1156.8 647.6,1162 L644.7,1391.5 Q644.5,1397.5 638.5,1397.5 L280,1394.6 Q274,1394.4 274.1,1388.5 L277.2,1158.5 Q277.3,1153.2 282.5,1153.3Z" fill="#fff" stroke="#000" stroke-width="1.9"/>
<path d="M301.4,1203.7 L301.4,1160.3 L500.0,1161.7" fill="none" stroke="#000" stroke-width="1.95"/>
<path d="M480.0,1161.3 L621.4,1162.3 L621.4,1206.8" fill="none" stroke="#000" stroke-width="1.95"/>
<path d="M319.6,1160.3 L319.6,1188.6" fill="none" stroke="#000" stroke-width="1.65"/>
<path d="M390.3,1160.9 L390.3,1189.6" fill="none" stroke="#000" stroke-width="1.65"/>
<path d="M398.4,1160.9 L398.4,1189.6" fill="none" stroke="#000" stroke-width="1.65"/>
<path d="M459.0,1160.9 L459.0,1189.6" fill="none" stroke="#000" stroke-width="1.65"/>
<path d="M467.1,1160.9 L467.1,1189.6" fill="none" stroke="#000" stroke-width="1.65"/>
<path d="M527.5,1161.9 L527.5,1190.6" fill="none" stroke="#000" stroke-width="1.65"/>
<path d="M535.6,1161.9 L535.6,1190.6" fill="none" stroke="#000" stroke-width="1.65"/>
<path d="M305.5,1188.6 L331.7,1188.6 L331.7,1178.5 L375.2,1178.5 L375.2,1188.6 L403.4,1188.6 L403.4,1179.5 L445.9,1180.1 L445.9,1190.2 L470.1,1190.6 L470.1,1180.5 L515.4,1180.9 L515.4,1190.6 L540.6,1190.6 L540.6,1180.5 L583.0,1181.5 L583.0,1190.6 L601.2,1190.0 L611.3,1190.0 L617.0,1192.6 L618.4,1199.7 L618.4,1210.8 L326.7,1210.8 L326.7,1199.7 L305.5,1199.7Z" fill="url(#st)" stroke="#000" stroke-width="1.3"/>
<path d="M305.5,1250.2 L325.7,1250.2 L325.7,1240.1 L618.4,1241.5 L618.4,1253.2 L616.6,1259.3 L609.3,1261.7 L597.2,1262.3 L581.0,1262.3 L581.0,1271.4 L540.6,1271.4 L540.6,1261.7 L513.3,1261.7 L513.3,1270.8 L470.1,1270.8 L470.1,1261.7 L445.9,1261.7 L445.9,1271.4 L403.4,1270.8 L403.4,1261.7 L375.2,1261.7 L375.2,1270.8 L331.7,1270.8 L331.7,1261.7 L305.5,1261.3Z" fill="url(#st)" stroke="#000" stroke-width="1.3"/>
<path d="M341.8,1190.0 L401.4,1190.0 L401.4,1196.7 L419.6,1196.7 L419.6,1199.7 L462.0,1199.7 L462.0,1208.8 L399.4,1208.8 L399.4,1200.1 L357.0,1200.1 L357.0,1195.1 L346.9,1195.1 L346.9,1200.1 L341.8,1200.1Z" fill="url(#st2)" stroke="#000" stroke-width="1.65"/>
<path d="M341.8,1251.2 L354.9,1251.2 L354.9,1255.3 L401.4,1255.3 L401.4,1251.2 L462.0,1251.2 L462.0,1242.1 L399.4,1242.1 L399.4,1260.9 L341.8,1260.9Z" fill="url(#st2)" stroke="#000" stroke-width="1.65"/>
<path d="M484.0,1190.6 L534.5,1190.6 L534.5,1197.7 L560.8,1197.7 L560.8,1201.1 L599.2,1201.1 L599.2,1209.2 L535.6,1209.2 L535.6,1200.1 L484.0,1200.1Z" fill="url(#st2)" stroke="#000" stroke-width="1.65"/>
<path d="M484.0,1251.2 L535.6,1251.2 L535.6,1242.1 L599.2,1242.1 L599.2,1251.2 L560.8,1251.2 L560.8,1259.3 L546.7,1259.3 L546.7,1260.9 L484.0,1260.9Z" fill="url(#st2)" stroke="#000" stroke-width="1.65"/>
<path d="M482.2,1191.0 L500.0,1191.0 L500.0,1200.1 L482.2,1200.1Z" fill="url(#st2)" stroke="#000" stroke-width="1.65"/>
<path d="M482.2,1251.6 L500.0,1251.6 L500.0,1260.9 L482.2,1260.9Z" fill="url(#st2)" stroke="#000" stroke-width="1.65"/>
<rect x="420.6" y="1180.9" width="24.2" height="8.1" rx="0" fill="url(#st2)" stroke="#000" stroke-width="1.50"/>
<rect x="420.6" y="1263.3" width="24.2" height="7.1" rx="0" fill="url(#st2)" stroke="#000" stroke-width="1.50"/>
<rect x="557.8" y="1182.1" width="24.2" height="7.7" rx="0" fill="url(#st2)" stroke="#000" stroke-width="1.50"/>
<rect x="557.8" y="1263.7" width="23.2" height="6.9" rx="0" fill="url(#st2)" stroke="#000" stroke-width="1.50"/>
<rect x="392.3" y="1200.7" width="3.6" height="12.5" rx="0" fill="#fff" stroke="#000" stroke-width="1.50"/>
<rect x="392.3" y="1239.1" width="3.6" height="11.7" rx="0" fill="#fff" stroke="#000" stroke-width="1.50"/>
<rect x="463.0" y="1200.7" width="3.6" height="12.5" rx="0" fill="#fff" stroke="#000" stroke-width="1.50"/>
<rect x="463.0" y="1239.1" width="3.6" height="11.7" rx="0" fill="#fff" stroke="#000" stroke-width="1.50"/>
<rect x="530.5" y="1200.7" width="3.2" height="13.1" rx="0" fill="#fff" stroke="#000" stroke-width="1.50"/>
<rect x="530.5" y="1240.1" width="3.2" height="11.1" rx="0" fill="#fff" stroke="#000" stroke-width="1.50"/>
<rect x="599.2" y="1200.7" width="3.2" height="13.1" rx="0" fill="#fff" stroke="#000" stroke-width="1.50"/>
<rect x="599.2" y="1240.1" width="3.2" height="11.1" rx="0" fill="#fff" stroke="#000" stroke-width="1.50"/>
<path d="M410.5,1196.7 Q410.5,1173.4 412.0,1171.6 Q413.5,1169.8 417.6,1169.6 Q421.6,1169.4 430.2,1169.6 Q438.8,1169.8 438.8,1172.3 Q438.8,1174.8 430.2,1174.8 Q421.6,1174.8 420.6,1176.2 Q419.6,1177.5 419.6,1196.7Z" fill="url(#hat)" stroke="#000" stroke-width="1.65"/>
<path d="M410.5,1254.2 Q410.5,1275.5 412.0,1278.0 Q413.5,1280.5 417.6,1281.0 Q421.6,1281.5 429.7,1281.5 Q437.8,1281.5 437.8,1278.7 Q437.8,1275.9 429.7,1275.9 Q421.6,1275.9 420.6,1274.1 Q419.6,1272.4 419.6,1254.2Z" fill="url(#hat)" stroke="#000" stroke-width="1.65"/>
<path d="M549.7,1196.7 Q549.7,1174.4 551.2,1172.6 Q552.7,1170.8 556.8,1170.6 Q560.8,1170.4 569.4,1170.6 Q578.0,1170.8 578.0,1173.4 Q578.0,1176.1 568.9,1176.1 Q559.8,1176.1 558.3,1177.3 Q556.8,1178.5 556.8,1196.7Z" fill="url(#hat)" stroke="#000" stroke-width="1.65"/>
<path d="M549.7,1255.3 Q549.7,1274.4 551.2,1276.8 Q552.7,1279.1 556.8,1279.5 Q560.8,1279.9 568.9,1279.9 Q577.0,1279.9 577.0,1277.3 Q577.0,1274.6 568.4,1274.6 Q559.8,1274.6 558.3,1273.0 Q556.8,1271.4 556.8,1255.3Z" fill="url(#hat)" stroke="#000" stroke-width="1.65"/>
<path d="M300.4,1211.2 L300.4,1239.1 L665.9,1241.5 L665.9,1214.8Z" fill="#fff" stroke="#000" stroke-width="1.5"/>
<path d="M275.2,1203.7 L326.7,1203.7" fill="none" stroke="#000" stroke-width="1.95"/>
<path d="M295.4,1210.8 L326.7,1210.8" fill="none" stroke="#000" stroke-width="1.80"/>
<path d="M275.2,1243.1 L326.7,1243.1 L326.7,1240.1" fill="none" stroke="#000" stroke-width="1.95"/>
<path d="M300.4,1240.1 L325.7,1240.1" fill="none" stroke="#000" stroke-width="1.80"/>
<rect x="277.2" y="1211.2" width="18.8" height="29.5" rx="0" fill="#fff" stroke="#000" stroke-width="1.95"/>
<path d="M284.2,1211.2 L284.2,1240.7" fill="none" stroke="#000" stroke-width="1.50"/>
<path d="M288.3,1211.2 L288.3,1240.7" fill="none" stroke="#000" stroke-width="1.50"/>
<path d="M292.3,1211.2 L292.3,1240.7" fill="none" stroke="#000" stroke-width="1.50"/>
<path d="M277.8,1218.9 Q280.2,1216.9 280.2,1224.9 Q280.2,1233.0 277.8,1231.0" fill="none" stroke="#000" stroke-width="1.80"/>
<path d="M280.2,1224.9 L283.8,1224.9" fill="none" stroke="#000" stroke-width="1.80"/>
<rect x="296.8" y="1214.8" width="3.6" height="21.2" rx="0" fill="#fff" stroke="#000" stroke-width="1.50"/>
<path d="M618.4,1207.8 L665.9,1207.8" fill="none" stroke="#000" stroke-width="1.95"/>
<path d="M618.4,1248.2 L664.8,1248.2" fill="none" stroke="#000" stroke-width="1.95"/>
<path d="M647.7,1207.8 L647.7,1203.7" fill="none" stroke="#000" stroke-width="1.95"/>
<path d="M720.0,1130.0 L720.0,1130.0" fill="none" stroke="#000" stroke-width="0.00"/>
<path d="M665.9,1197.7 L676.0,1197.7 L674.9,1341.1 L664.8,1341.1Z" fill="#fff" stroke="#000" stroke-width="1.5"/>
<rect x="676.0" y="1212.8" width="4.4" height="29.3" rx="0" fill="#fff" stroke="#000" stroke-width="1.95"/>
<path d="M665.9,1214.8 L676.0,1214.8" fill="none" stroke="#000" stroke-width="1.50"/>
<path d="M665.9,1241.1 L676.0,1241.1" fill="none" stroke="#000" stroke-width="1.50"/>
<path d="M283.2,1312.8 Q283.2,1377.4 283.7,1379.6 Q284.2,1381.9 290.3,1382.9" fill="none" stroke="#000" stroke-width="2.25"/>
<path d="M290.3,1382.9 L444.8,1382.9 L447.9,1357.2 L474.1,1357.2 L475.8,1377.4 L480.2,1384.5 L482.0,1386.5 L629.5,1386.9 L634.5,1384.5 L634.5,1314.8" fill="none" stroke="#000" stroke-width="1.5"/>
<path d="M275.2,1242.1 L324.6,1242.1 L324.6,1260.2" fill="none" stroke="#000" stroke-width="1.80"/>
<path d="M284.2,1312.8 Q284.2,1277.4 285.3,1272.4 Q286.3,1267.3 292.3,1266.8 Q298.4,1266.3 304.9,1266.8 Q311.5,1267.3 312.2,1272.9 Q312.9,1278.4 312.9,1315.3 Q312.9,1352.2 313.7,1353.7 Q314.5,1355.2 331.7,1355.2" fill="none" stroke="#000" stroke-width="2.10"/>
<path d="M331.7,1355.2 L332.3,1333.4 L335.8,1332.2 L386.3,1332.2" fill="none" stroke="#000" stroke-width="2.10"/>
<path d="M284.2,1312.8 L287.3,1312.8 L287.3,1330.9 L312.5,1330.9" fill="none" stroke="#000" stroke-width="2.10"/>
<ellipse cx="299.4" cy="1281.5" rx="10.9" ry="10.9" fill="none" stroke="#000" stroke-width="2.10"/>
<path d="M386.3,1264.3 L386.3,1356.2 L398.4,1356.2 L398.4,1264.3" fill="none" stroke="#000" stroke-width="2.10"/>
<path d="M398.4,1356.2 L405.5,1355.6 L405.9,1333.4 L409.5,1332.6 L454.9,1332.6" fill="none" stroke="#000" stroke-width="2.10"/>
<path d="M454.9,1264.3 L454.9,1357.2 L467.1,1357.2 L467.1,1264.3" fill="none" stroke="#000" stroke-width="2.10"/>
<path d="M324.6,1260.2 L324.6,1349.1" fill="none" stroke="#000" stroke-width="1.65"/>
<path d="M474.1,1357.2 L475.2,1333.4 L500.0,1333.0" fill="none" stroke="#000" stroke-width="2.10"/>
<path d="M480.0,1335.0 L520.4,1335.0 L523.4,1337.0 L523.4,1357.2 L535.6,1357.2 L535.6,1264.3" fill="none" stroke="#000" stroke-width="2.10"/>
<path d="M523.4,1264.3 L523.4,1357.2" fill="none" stroke="#000" stroke-width="2.10"/>
<path d="M535.6,1357.2 L542.6,1356.4 L543.6,1335.4 L547.7,1334.6 L594.1,1334.6" fill="none" stroke="#000" stroke-width="2.10"/>
<path d="M594.1,1272.4 L594.1,1357.2 L607.3,1357.2 L607.3,1336.0 L631.5,1335.0 L631.5,1314.8 L635.2,1314.8" fill="none" stroke="#000" stroke-width="2.10"/>
<path d="M607.3,1336.0 Q607.3,1282.5 608.3,1276.6 Q609.3,1270.7 615.4,1270.0 Q621.4,1269.3 627.7,1270.0 Q633.9,1270.7 634.5,1277.6 Q635.2,1284.5 635.2,1314.8" fill="none" stroke="#000" stroke-width="2.10"/>
<ellipse cx="621.4" cy="1284.5" rx="10.5" ry="10.5" fill="none" stroke="#000" stroke-width="2.10"/>
<path d="M594.1,1272.4 Q596.2,1266.3 602.7,1265.3 Q609.3,1264.3 613.3,1261.3 Q617.4,1258.2 618.4,1248.1" fill="none" stroke="#000" stroke-width="1.95"/>
<path d="M344.8,1270.3 L344.8,1315.8 L370.1,1315.8 L370.1,1270.3" fill="none" stroke="#000" stroke-width="2.10"/>
<path d="M344.8,1298.6 L370.1,1298.6" fill="none" stroke="#000" stroke-width="2.10"/>
<path d="M344.8,1303.7 L370.1,1303.7" fill="none" stroke="#000" stroke-width="2.10"/>
<path d="M344.8,1308.7 L370.1,1308.7" fill="none" stroke="#000" stroke-width="2.10"/>
<path d="M416.6,1281.5 L416.6,1316.8 L438.8,1316.8 L438.8,1281.5" fill="none" stroke="#000" stroke-width="2.10"/>
<path d="M416.6,1298.6 L438.8,1298.6" fill="none" stroke="#000" stroke-width="2.10"/>
<path d="M416.6,1304.7 L438.8,1304.7" fill="none" stroke="#000" stroke-width="2.10"/>
<path d="M416.6,1310.7 L438.8,1310.7" fill="none" stroke="#000" stroke-width="2.10"/>
<path d="M484.0,1271.4 L484.0,1316.8 L508.3,1316.8 L508.3,1271.4" fill="none" stroke="#000" stroke-width="2.10"/>
<path d="M484.0,1300.6 L508.3,1300.6" fill="none" stroke="#000" stroke-width="2.10"/>
<path d="M484.0,1305.7 L508.3,1305.7" fill="none" stroke="#000" stroke-width="2.10"/>
<path d="M484.0,1310.7 L508.3,1310.7" fill="none" stroke="#000" stroke-width="2.10"/>
<path d="M554.7,1281.5 L554.7,1316.8 L576.0,1316.8 L576.0,1281.5" fill="none" stroke="#000" stroke-width="2.10"/>
<path d="M554.7,1300.6 L576.0,1300.6" fill="none" stroke="#000" stroke-width="2.10"/>
<path d="M554.7,1305.7 L576.0,1305.7" fill="none" stroke="#000" stroke-width="2.10"/>
<path d="M554.7,1310.7 L576.0,1310.7" fill="none" stroke="#000" stroke-width="2.10"/>
<path d="M484.2,1270.3 L484.2,1316.8 L500.0,1316.8" fill="none" stroke="#000" stroke-width="2.10"/>
<path d="M484.2,1298.6 L500.0,1298.6" fill="none" stroke="#000" stroke-width="2.10"/>
<path d="M484.2,1304.7 L500.0,1304.7" fill="none" stroke="#000" stroke-width="2.10"/>
<path d="M484.2,1310.7 L500.0,1310.7" fill="none" stroke="#000" stroke-width="2.10"/>
<rect x="339.8" y="1333.8" width="34.3" height="4.8" rx="0" fill="#fff" stroke="#000" stroke-width="1.80"/>
<rect x="348.5" y="1338.6" width="17.0" height="8.9" rx="0" fill="#fff" stroke="#000" stroke-width="1.80"/>
<path d="M350.9,1341.1 L363.0,1341.1" fill="none" stroke="#000" stroke-width="1.50"/>
<path d="M350.9,1344.1 L363.0,1344.1" fill="none" stroke="#000" stroke-width="1.50"/>
<path d="M338.4,1348.3 L376.2,1347.5 Q357.0,1369.3 338.4,1348.3Z" fill="#fff" stroke="#000" stroke-width="1.4"/>
<path d="M342.8,1351.6 L371.5,1350.7" fill="none" stroke="#000" stroke-width="1.50"/>
<rect x="411.5" y="1333.8" width="34.3" height="4.8" rx="0" fill="#fff" stroke="#000" stroke-width="1.80"/>
<rect x="420.2" y="1338.6" width="17.0" height="8.9" rx="0" fill="#fff" stroke="#000" stroke-width="1.80"/>
<path d="M422.6,1341.1 L434.7,1341.1" fill="none" stroke="#000" stroke-width="1.50"/>
<path d="M422.6,1344.1 L434.7,1344.1" fill="none" stroke="#000" stroke-width="1.50"/>
<path d="M410.1,1348.3 L447.9,1347.5 Q428.7,1369.3 410.1,1348.3Z" fill="#fff" stroke="#000" stroke-width="1.4"/>
<path d="M414.5,1351.6 L443.2,1350.7" fill="none" stroke="#000" stroke-width="1.50"/>
<rect x="478.0" y="1333.8" width="34.3" height="4.8" rx="0" fill="#fff" stroke="#000" stroke-width="1.80"/>
<rect x="486.7" y="1338.6" width="17.0" height="8.9" rx="0" fill="#fff" stroke="#000" stroke-width="1.80"/>
<path d="M489.1,1341.1 L501.2,1341.1" fill="none" stroke="#000" stroke-width="1.50"/>
<path d="M489.1,1344.1 L501.2,1344.1" fill="none" stroke="#000" stroke-width="1.50"/>
<path d="M476.6,1348.3 L514.3,1347.5 Q495.2,1369.3 476.6,1348.3Z" fill="#fff" stroke="#000" stroke-width="1.4"/>
<path d="M481.0,1351.6 L509.7,1350.7" fill="none" stroke="#000" stroke-width="1.50"/>
<rect x="547.7" y="1333.8" width="34.3" height="4.8" rx="0" fill="#fff" stroke="#000" stroke-width="1.80"/>
<rect x="556.4" y="1338.6" width="17.0" height="8.9" rx="0" fill="#fff" stroke="#000" stroke-width="1.80"/>
<path d="M558.8,1341.1 L570.9,1341.1" fill="none" stroke="#000" stroke-width="1.50"/>
<path d="M558.8,1344.1 L570.9,1344.1" fill="none" stroke="#000" stroke-width="1.50"/>
<path d="M546.3,1348.3 L584.0,1347.5 Q564.8,1369.3 546.3,1348.3Z" fill="#fff" stroke="#000" stroke-width="1.4"/>
<path d="M550.7,1351.6 L579.4,1350.7" fill="none" stroke="#000" stroke-width="1.50"/>
<path d="M821,1159.3 L994,1160.3 Q999.3,1160.4 999.2,1165.5 L998,1394 Q997.9,1399.6 992,1399.6 L820,1398.5 Q813.8,1398.4 814,1392.5 L816,1164.5 Q816.1,1159.2 821,1159.3Z" fill="#fff" stroke="#000" stroke-width="1.9"/>
<path d="M822.3,1160.2 L822.3,1168.3 L992.0,1168.3 L992.0,1160.2" fill="none" stroke="#000" stroke-width="2.25"/>
<path d="M826.4,1168.3 L825.4,1301.6" fill="none" stroke="#000" stroke-width="2.25"/>
<path d="M985.6,1168.3 L985.6,1301.6" fill="none" stroke="#000" stroke-width="2.25"/>
<ellipse cx="906.2" cy="1228.9" rx="46.5" ry="46.5" fill="#fff" stroke="#000" stroke-width="2.55"/>
<ellipse cx="906.2" cy="1228.9" rx="36.0" ry="36.0" fill="none" stroke="#000" stroke-width="2.25"/>
<path d="M892.0,1220.8 L915.3,1215.2 L920.9,1238.0 L897.7,1243.6Z" fill="none" stroke="#000" stroke-width="2.10"/>
<path d="M890.0,1228.9 L895.1,1217.8 L905.2,1213.7 L919.3,1222.8 L922.3,1234.9 L913.2,1245.1 L907.2,1247.1 L894.0,1240.0Z" fill="none" stroke="#000" stroke-width="1.35"/>
<rect x="849.6" y="1217.8" width="10.1" height="22.2" rx="2" fill="#fff" stroke="#000" stroke-width="1.95"/>
<path d="M854.6,1220.8 L854.6,1226.9" fill="none" stroke="#000" stroke-width="1.50"/>
<path d="M854.6,1230.9 L854.6,1237.0" fill="none" stroke="#000" stroke-width="1.50"/>
<rect x="953.2" y="1217.8" width="10.1" height="22.2" rx="2" fill="#fff" stroke="#000" stroke-width="1.95"/>
<path d="M958.3,1220.8 L958.3,1226.9" fill="none" stroke="#000" stroke-width="1.50"/>
<path d="M958.3,1230.9 L958.3,1237.0" fill="none" stroke="#000" stroke-width="1.50"/>
<rect x="869.9" y="1177.9" width="22" height="11" rx="3" fill="#fff" stroke="#000" stroke-width="1.3" transform="rotate(-25 880.9 1183.4)"/>
<path d="M874.9,1183.4h4m4,0h4" stroke="#000" stroke-width="1" transform="rotate(-25 880.9 1183.4)"/>
<rect x="920.8" y="1270.3" width="22" height="11" rx="3" fill="#fff" stroke="#000" stroke-width="1.3" transform="rotate(-25 931.8 1275.8)"/>
<path d="M925.8,1275.8h4m4,0h4" stroke="#000" stroke-width="1" transform="rotate(-25 931.8 1275.8)"/>
<path d="M831.4,1203.6 Q835.5,1200.6 839.5,1208.7 Q843.5,1216.8 844.0,1223.8 Q844.5,1230.9 841.5,1240.0 Q838.5,1249.1 840.0,1259.2 Q841.5,1269.3 844.5,1275.4 Q847.6,1281.4 846.1,1287.5 Q844.5,1293.5 840.0,1297.6 Q835.5,1301.6 836.5,1305.7 Q837.5,1309.7 845.6,1311.7" fill="none" stroke="#000" stroke-width="2.10"/>
<path d="M838.5,1206.7 Q848.6,1224.8 848.1,1230.9 Q847.6,1237.0 845.6,1243.5 Q843.5,1250.1 845.1,1259.7 Q846.6,1269.3 849.1,1275.4 Q851.6,1281.4 850.6,1288.5 Q849.6,1295.6 845.1,1299.1 Q840.5,1302.6 841.7,1305.2 Q842.9,1307.7 847.6,1308.7" fill="none" stroke="#000" stroke-width="1.80"/>
<path d="M826.4,1218.8 Q832.4,1226.9 840.5,1239.0" fill="none" stroke="#000" stroke-width="2.10"/>
<path d="M850.6,1253.1 L850.6,1301.6" fill="none" stroke="#000" stroke-width="1.95"/>
<path d="M847.6,1245.1 Q860.7,1261.2 865.8,1274.3 Q870.8,1287.5 871.8,1329.9" fill="none" stroke="#000" stroke-width="2.10"/>
<path d="M844.5,1249.1 L847.6,1245.1 L850.6,1253.1" fill="none" stroke="#000" stroke-width="1.80"/>
<path d="M825.4,1301.6 Q826.4,1311.7 829.9,1312.7 Q833.4,1313.7 842.5,1315.8" fill="none" stroke="#000" stroke-width="2.10"/>
<path d="M978.9,1205.7 Q974.8,1203.0 971.3,1208.9 Q967.8,1214.7 966.6,1222.8 Q965.4,1230.9 968.1,1240.0 Q970.8,1249.1 969.8,1259.2 Q968.8,1269.3 966.3,1275.4 Q963.7,1281.4 964.9,1287.5 Q966.2,1293.5 970.5,1297.6 Q974.8,1301.6 973.8,1305.7 Q972.8,1309.7 964.7,1311.7" fill="none" stroke="#000" stroke-width="2.10"/>
<path d="M972.8,1206.7 Q963.3,1224.8 962.7,1230.9 Q962.1,1237.0 964.7,1243.5 Q967.4,1250.1 965.8,1259.7 Q964.1,1269.3 961.9,1275.4 Q959.7,1281.4 960.7,1288.5 Q961.7,1295.6 966.1,1299.1 Q970.4,1302.6 969.1,1305.2 Q967.8,1307.7 963.3,1308.7" fill="none" stroke="#000" stroke-width="1.80"/>
<path d="M985.6,1220.8 L969.8,1243.0" fill="none" stroke="#000" stroke-width="2.10"/>
<path d="M958.7,1261.2 L958.7,1301.6" fill="none" stroke="#000" stroke-width="1.95"/>
<path d="M963.7,1253.1 Q949.6,1269.3 945.1,1279.4 Q940.5,1289.5 938.0,1300.6 Q935.5,1311.7 935.1,1329.9" fill="none" stroke="#000" stroke-width="2.10"/>
<path d="M985.6,1301.6 Q984.3,1311.7 980.6,1312.9 Q976.9,1314.1 967.8,1315.8" fill="none" stroke="#000" stroke-width="2.10"/>
<path d="M826.0,1263.2 L833.4,1269.3 L841.5,1277.4 L842.9,1285.5 L837.5,1293.5 L830.4,1296.6 L826.0,1293.5 Z" fill="#000"/>
<path d="M984.9,1269.3 L977.9,1271.3 L968.8,1279.4 L967.8,1287.5 L972.8,1294.5 L980.9,1295.6 L984.9,1293.5 Z" fill="#000"/>
<rect x="842.5" y="1300.6" width="22.2" height="36.4" rx="0" fill="#fff" stroke="#000" stroke-width="2.10"/>
<path d="M840.5,1301.6 L864.7,1301.6" fill="none" stroke="#000" stroke-width="3.00"/>
<path d="M843.5,1307.7 L863.7,1307.7" fill="none" stroke="#000" stroke-width="1.95"/>
<path d="M864.7,1319.8 L871.8,1319.8" fill="none" stroke="#000" stroke-width="1.95"/>
<path d="M864.7,1337.0 L871.8,1337.0 L871.8,1300.6" fill="none" stroke="#000" stroke-width="1.95"/>
<rect x="944.5" y="1301.6" width="23.2" height="35.4" rx="0" fill="#fff" stroke="#000" stroke-width="2.10"/>
<path d="M944.5,1302.6 L969.8,1302.6" fill="none" stroke="#000" stroke-width="3.00"/>
<path d="M945.6,1308.7 L965.8,1308.7" fill="none" stroke="#000" stroke-width="1.95"/>
<path d="M935.5,1319.8 L944.5,1319.8" fill="none" stroke="#000" stroke-width="1.95"/>
<path d="M935.5,1300.6 L935.5,1337.0 L944.5,1337.0" fill="none" stroke="#000" stroke-width="1.95"/>
<rect x="834.0" y="1338.0" width="36.4" height="4.6" rx="0" fill="#fff" stroke="#000" stroke-width="1.95"/>
<rect x="847.2" y="1342.6" width="10.1" height="7.5" rx="0" fill="#333" stroke="#000" stroke-width="1.50"/>
<path d="M834.4,1350.7 L870.0,1350.3 Q852.2,1366.3 834.4,1350.7Z" fill="#fff" stroke="#000" stroke-width="1.3"/>
<path d="M852.2,1350.7 L852.2,1359.2" fill="none" stroke="#000" stroke-width="1.50"/>
<rect x="937.9" y="1338.0" width="36.4" height="4.6" rx="0" fill="#fff" stroke="#000" stroke-width="1.95"/>
<rect x="951.0" y="1342.6" width="10.1" height="7.5" rx="0" fill="#333" stroke="#000" stroke-width="1.50"/>
<path d="M938.3,1350.7 L973.8,1350.3 Q956.1,1366.3 938.3,1350.7Z" fill="#fff" stroke="#000" stroke-width="1.3"/>
<path d="M956.1,1350.7 L956.1,1359.2" fill="none" stroke="#000" stroke-width="1.50"/>
<path d="M833.4,1359.2 Q832.4,1341.0 834.4,1338.0" fill="none" stroke="#000" stroke-width="1.80"/>
<path d="M977.9,1359.2 Q978.9,1341.0 976.9,1338.0" fill="none" stroke="#000" stroke-width="1.80"/>
<path d="M814.2,1326.9 L821.9,1326.9 L822.3,1357.2" fill="none" stroke="#000" stroke-width="2.40"/>
<path d="M822.3,1357.2 Q823.3,1361.2 826.9,1361.2 Q830.4,1361.2 850.6,1361.0 Q870.8,1360.8 877.9,1357.0 Q884.9,1353.1 891.0,1347.9 Q897.1,1342.6 902.1,1342.3 Q907.2,1342.0 913.2,1342.5 Q919.3,1343.0 925.4,1350.6 Q931.4,1358.2 937.5,1359.7 Q943.5,1361.2 963.7,1361.2 Q983.9,1361.2 987.0,1359.2" fill="none" stroke="#000" stroke-width="2.40"/>
<path d="M987.0,1358.2 L998.1,1358.2" fill="none" stroke="#000" stroke-width="2.10"/>
<path d="M987.0,1359.2 L986.0,1389.5 L815.3,1388.5" fill="none" stroke="#000" stroke-width="2.25"/>
<path d="M957.7,1361.2 L957.7,1381.4 L955.7,1389.5" fill="none" stroke="#000" stroke-width="1.95"/>
<path d="M961.7,1400.6 Q971.8,1408.7 981.9,1400.6" fill="none" stroke="#000" stroke-width="3.30"/>
<path d="M815.3,1388.5 L815.3,1326.9" fill="none" stroke="#000" stroke-width="1.50"/>
<text x="283.0" y="1084.9" font-size="11.5" textLength="165.3" lengthAdjust="spacing" stroke="#000" stroke-width="0.35" transform="rotate(0.4 283.0 1084.9)">REAR INSULATION ROTORS</text>
<text x="349.1" y="1100.0" font-size="11.5" textLength="20.2" lengthAdjust="spacing" stroke="#000" stroke-width="0.35" transform="rotate(0.4 349.1 1100.0)">183</text>
<text x="272.3" y="1133.2" font-size="11.5" textLength="84.9" lengthAdjust="spacing" stroke="#000" stroke-width="0.35" transform="rotate(0.4 272.3 1133.2)">END BUSHING</text>
<text x="301.6" y="1145.9" font-size="11.5" textLength="17.2" lengthAdjust="spacing" stroke="#000" stroke-width="0.35" transform="rotate(0.4 301.6 1145.9)">181</text>
<text x="386.2" y="1123.3" font-size="11.5" textLength="186.8" lengthAdjust="spacing" stroke="#000" stroke-width="0.35" transform="rotate(0.4 386.2 1123.3)">CENTER INSULATION ROTORS</text>
<text x="467.0" y="1137.0" font-size="11.5" textLength="17.6" lengthAdjust="spacing" stroke="#000" stroke-width="0.35" transform="rotate(0.4 467.0 1137.0)">182</text>
<text x="589.7" y="1088.3" font-size="11.5" textLength="165.5" lengthAdjust="spacing" stroke="#000" stroke-width="0.35" transform="rotate(0.4 589.7 1088.3)">FRONT INSULATION ROTOR</text>
<text x="661.2" y="1103.5" font-size="11.5" textLength="19.2" lengthAdjust="spacing" stroke="#000" stroke-width="0.35" transform="rotate(0.4 661.2 1103.5)">189</text>
<text x="719.2" y="1207.5" font-size="11.5" textLength="60.2" lengthAdjust="spacing" stroke="#000" stroke-width="0.35" transform="rotate(0.4 719.2 1207.5)">CONTACT</text>
<text x="726.9" y="1219.2" font-size="11.5" textLength="57.5" lengthAdjust="spacing" stroke="#000" stroke-width="0.35" transform="rotate(0.4 726.9 1219.2)">FINGERS</text>
<text x="739.0" y="1232.2" font-size="11.5" textLength="19.2" lengthAdjust="spacing" stroke="#000" stroke-width="0.35" transform="rotate(0.4 739.0 1232.2)">184</text>
<text x="720.4" y="1259.2" font-size="11.5" textLength="58.0" lengthAdjust="spacing" stroke="#000" stroke-width="0.35" transform="rotate(0.4 720.4 1259.2)">CONTACT</text>
<text x="727.9" y="1272.4" font-size="11.5" textLength="43.8" lengthAdjust="spacing" stroke="#000" stroke-width="0.35" transform="rotate(0.4 727.9 1272.4)">ROTOR</text>
<text x="738.4" y="1285.1" font-size="11.5" textLength="20.2" lengthAdjust="spacing" stroke="#000" stroke-width="0.35" transform="rotate(0.4 738.4 1285.1)">185</text>
<text x="692.9" y="1320.8" font-size="11.5" textLength="107.7" lengthAdjust="spacing" stroke="#000" stroke-width="0.35" transform="rotate(0.4 692.9 1320.8)">FINGER SPRINGS</text>
<text x="732.9" y="1334.0" font-size="11.5" textLength="22.3" lengthAdjust="spacing" stroke="#000" stroke-width="0.35" transform="rotate(0.4 732.9 1334.0)">188</text>
<text x="674.3" y="1374.4" font-size="11.5" textLength="97.0" lengthAdjust="spacing" stroke="#000" stroke-width="0.35" transform="rotate(0.4 674.3 1374.4)">FRONT COVER</text>
<text x="713.7" y="1387.9" font-size="11.5" textLength="20.8" lengthAdjust="spacing" stroke="#000" stroke-width="0.35" transform="rotate(0.4 713.7 1387.9)">186</text>
<path d="M363.2,1104.5 L361.8,1153.0" fill="none" stroke="#000" stroke-width="1.50"/>
<path d="M361.8,1153.0 L315.8,1187.7" stroke="#000" stroke-width="1.20" fill="none"/>
<path d="M315.8,1187.7 L318.7,1183.7 L320.5,1186.0Z" fill="#000"/>
<path d="M269.3,1131.2 L254.1,1131.2" fill="none" stroke="#000" stroke-width="1.95"/>
<path d="M261.2,1131.2 L252.1,1131.2" stroke="#000" stroke-width="1.20" fill="none"/>
<path d="M252.1,1131.2 L255.9,1130.0 L255.9,1132.3Z" fill="#000"/>
<path d="M254.1,1131.8 L291.9,1205.1" stroke="#000" stroke-width="1.20" fill="none"/>
<path d="M291.9,1205.1 L288.4,1201.5 L291.0,1200.2Z" fill="#000"/>
<path d="M478.2,1143.1 L462.0,1190.6" stroke="#000" stroke-width="1.20" fill="none"/>
<path d="M462.0,1190.6 L462.2,1185.6 L465.0,1186.6Z" fill="#000"/>
<path d="M661.2,1108.1 L640.0,1136.8" fill="none" stroke="#000" stroke-width="1.50"/>
<path d="M645.7,1130.0 L601.2,1189.6" stroke="#000" stroke-width="1.20" fill="none"/>
<path d="M601.2,1189.6 L602.9,1184.9 L605.3,1186.7Z" fill="#000"/>
<path d="M780.4,1204.5 L828.9,1205.1" stroke="#000" stroke-width="1.20" fill="none"/>
<path d="M828.9,1205.1 L824.1,1206.5 L824.1,1203.6Z" fill="#000"/>
<path d="M779.4,1255.6 L871.3,1256.2" stroke="#000" stroke-width="1.20" fill="none"/>
<path d="M871.3,1256.2 L866.5,1257.6 L866.5,1254.7Z" fill="#000"/>
<path d="M779.4,1309.7 L826.9,1290.1" stroke="#000" stroke-width="1.20" fill="none"/>
<path d="M826.9,1290.1 L823.0,1293.3 L821.9,1290.6Z" fill="#000"/>
<path d="M773.3,1370.3 L824.8,1371.4" fill="none" stroke="#000" stroke-width="1.80"/>
<path d="M824.8,1371.4 L857.2,1397.6" stroke="#000" stroke-width="1.44" fill="none"/>
<path d="M857.2,1397.6 L852.5,1395.8 L854.4,1393.5Z" fill="#000"/>
</svg>

<div id="pg">
<div class="t hs" id="hm" style="left:151.8px;top:75.9px;font-size:18.4px;line-height:24px;-webkit-text-stroke:1px #000;letter-spacing:0.6px">MAINTENANCE</div>
<div style="position:absolute;left:323px;top:91.3px;width:801px;height:5.3px;background:#000"></div>
<div class="t sb" id="hib" style="right:64.5px;top:72.9px;font-size:16.5px;line-height:20px;letter-spacing:0.38px;-webkit-text-stroke:0.8px #000">I.B. 33-850-1 &amp; 2E</div>
<div class="t" id="hdb" style="right:64.5px;top:96px;font-family:'DejaVu Sans','Liberation Sans',sans-serif;font-weight:bold;font-size:13.8px;line-height:20px;letter-spacing:0.45px;transform-origin:100% 50%;transform:scaleX(1.193);-webkit-text-stroke:0.8px #000">&#8220;DB&#8221; AIR CIRCUIT BREAKERS</div>
<div class="l" style="left:153.0px;top:131.7px;width:466.5px">When the series coil current is flowing in the for-</div>
<div class="l" style="left:153.0px;top:155.8px;width:466.5px">ward direction, armature movement is prevented by</div>
<div class="l" style="left:153.0px;top:179.8px;width:466.5px">a stop.&nbsp; When the series coil current is reversed,</div>
<div class="l" style="left:153.0px;top:203.9px;width:466.5px">the armature rotates in the opposite direction to</div>
<div class="l" style="left:153.0px;top:227.9px;width:466.5px">trip the breaker.&nbsp; Calibration adjustment covers 5</div>
<div class="l" style="left:153.0px;top:252.0px;width:466.5px">to 25 percent reverse current, based on normal</div>
<div class="l e" style="left:153.0px;top:276.0px;width:466.5px">current rating.</div>
<div class="l" style="left:177.0px;top:303.8px;width:442.5px">After tripping, the reverse current armature is</div>
<div class="l" style="left:153.0px;top:327.9px;width:466.5px">reset by opening the potential coil circuit.&nbsp; For this</div>
<div class="l" style="left:153.0px;top:351.9px;width:466.5px">purpose an &#8220;a&#8221; contact of the breaker auxiliary</div>
<div class="l" style="left:153.0px;top:376.0px;width:466.5px">switch should be connected in series with the poten-</div>
<div class="l e" style="left:153.0px;top:400.0px;width:466.5px">tial coil.</div>
<div class="l" style="left:680.7px;top:131.7px;width:443.0px"><b>Inspection.</b>&nbsp; Close the breaker manually, and</div>
<div class="l" style="left:655.2px;top:155.7px;width:468.5px">push backward on the spring stud located on the</div>
<div class="l" style="left:655.3px;top:179.7px;width:468.5px">bottom of the armature, to trip the breaker.&nbsp; The</div>
<div class="l" style="left:655.4px;top:203.7px;width:468.5px">armature should move without friction, and should</div>
<div class="l" style="left:655.5px;top:227.7px;width:468.5px">have approximately <span class="fr"><span class="n">1</span><span class="s">/</span><span class="d">32</span></span>-inch overtravel after trip-</div>
<div class="l e" style="left:655.6px;top:251.7px;width:468.5px">ping.</div>
<div class="l" style="left:679.7px;top:284.3px;width:444.5px">Final inspection should be made electrically, after</div>
<div class="l" style="left:655.8px;top:308.3px;width:468.5px">the circuit connections are complete as shown in</div>
<div class="l e" style="left:655.8px;top:332.3px;width:468.5px">Fig. 8, page 22.</div>
<div class="l" style="left:681.3px;top:373.5px;width:443.0px"><b>Maintenance.</b>&nbsp; Remove all power from the</div>
<div class="l" style="left:655.8px;top:397.5px;width:468.5px">breaker and repeat the mechanical inspection given</div>
<div class="l" style="left:655.7px;top:421.5px;width:468.5px">above.&nbsp; Check for loose bolts and open circuit in</div>
<div class="l e" style="left:655.5px;top:445.5px;width:468.5px">potential coil.</div>
<div class="l" style="left:678.5px;top:553.6px;width:444.5px">The field discharge switch is ordinarily used</div>
<div class="l" style="left:654.2px;top:577.6px;width:468.5px">with a two-pole breaker, and mounts on the center</div>
<div class="l" style="left:653.9px;top:601.5px;width:468.5px">moulded pole unit base.&nbsp; (See Fig. 14).&nbsp; The switch</div>
<div class="l" style="left:653.6px;top:625.5px;width:468.5px">is shipped with the gap setting shown in Fig. 14,</div>
<div class="l" style="left:653.3px;top:649.4px;width:468.5px">for generator field protection.&nbsp; However, the gap</div>
<div class="l" style="left:653.0px;top:673.4px;width:468.5px">setting can be reduced to zero or set to open after</div>
<div class="l" style="left:653.2px;top:697.3px;width:468.5px">the breaker contacts close, if desired.&nbsp; An arc chute</div>
<div class="l" style="left:653.4px;top:721.3px;width:468.5px">is always supplied to interrupt motor starting second-</div>
<div class="l e" style="left:653.7px;top:745.2px;width:468.5px">ary currents.</div>
<div class="l" style="left:678.1px;top:788.6px;width:444.5px"><b>Inspection.</b>&nbsp; Remove the arc chute, close the</div>
<div class="l" style="left:654.4px;top:812.7px;width:468.5px">breaker manually and check for freedom of motion.</div>
<div class="l" style="left:654.6px;top:836.8px;width:468.5px">The break distance is adjusted by loosening the lock</div>
<div class="l" style="left:654.9px;top:860.9px;width:468.5px">nut and turning the sleeve in or out.&nbsp; Always leave</div>
<div class="l e" style="left:655.2px;top:885.0px;width:468.5px">a slight gap at the stop surface.</div>
<div class="l" style="left:679.7px;top:928.6px;width:444.5px"><b>Maintenance.</b> Remove power from the break-</div>
<div class="l" style="left:655.9px;top:952.7px;width:468.5px">er, clean the contacts if necessary, check the contact</div>
<div class="l" style="left:656.2px;top:976.8px;width:468.5px">separation and adjust if necessary.&nbsp; Check for loose</div>
<div class="l e" style="left:656.5px;top:1000.9px;width:468.5px">bolts.</div>
<div class="t hs" id="hd" style="left:698px;top:515.6px;font-size:18.2px;line-height:24px;letter-spacing:0.7px;-webkit-text-stroke:1.25px #000">DBF-6 FIELD DISCHARGE SWITCH</div>
<div class="t hs" id="c1" style="left:235.7px;top:1006.9px;font-size:14.5px;line-height:20px;letter-spacing:0.25px;-webkit-text-stroke:0.75px #000">FIG. 15.&nbsp; Auxiliary Switch&#8212;Location</div>
<div class="t hs" id="c2" style="left:414.9px;top:1430.3px;font-size:14.5px;line-height:20px;letter-spacing:0.24px;-webkit-text-stroke:0.75px #000">FIG. 15A.&nbsp; Auxiliary Switch&#8212;Construction Details</div>
<div class="t sb" id="pn" style="left:1094.6px;top:1488.7px;font-size:39.1px;line-height:48px;transform-origin:0 0;transform:scaleX(0.706);-webkit-text-stroke:0.6px #000">29</div>
</div>
</body></html>
